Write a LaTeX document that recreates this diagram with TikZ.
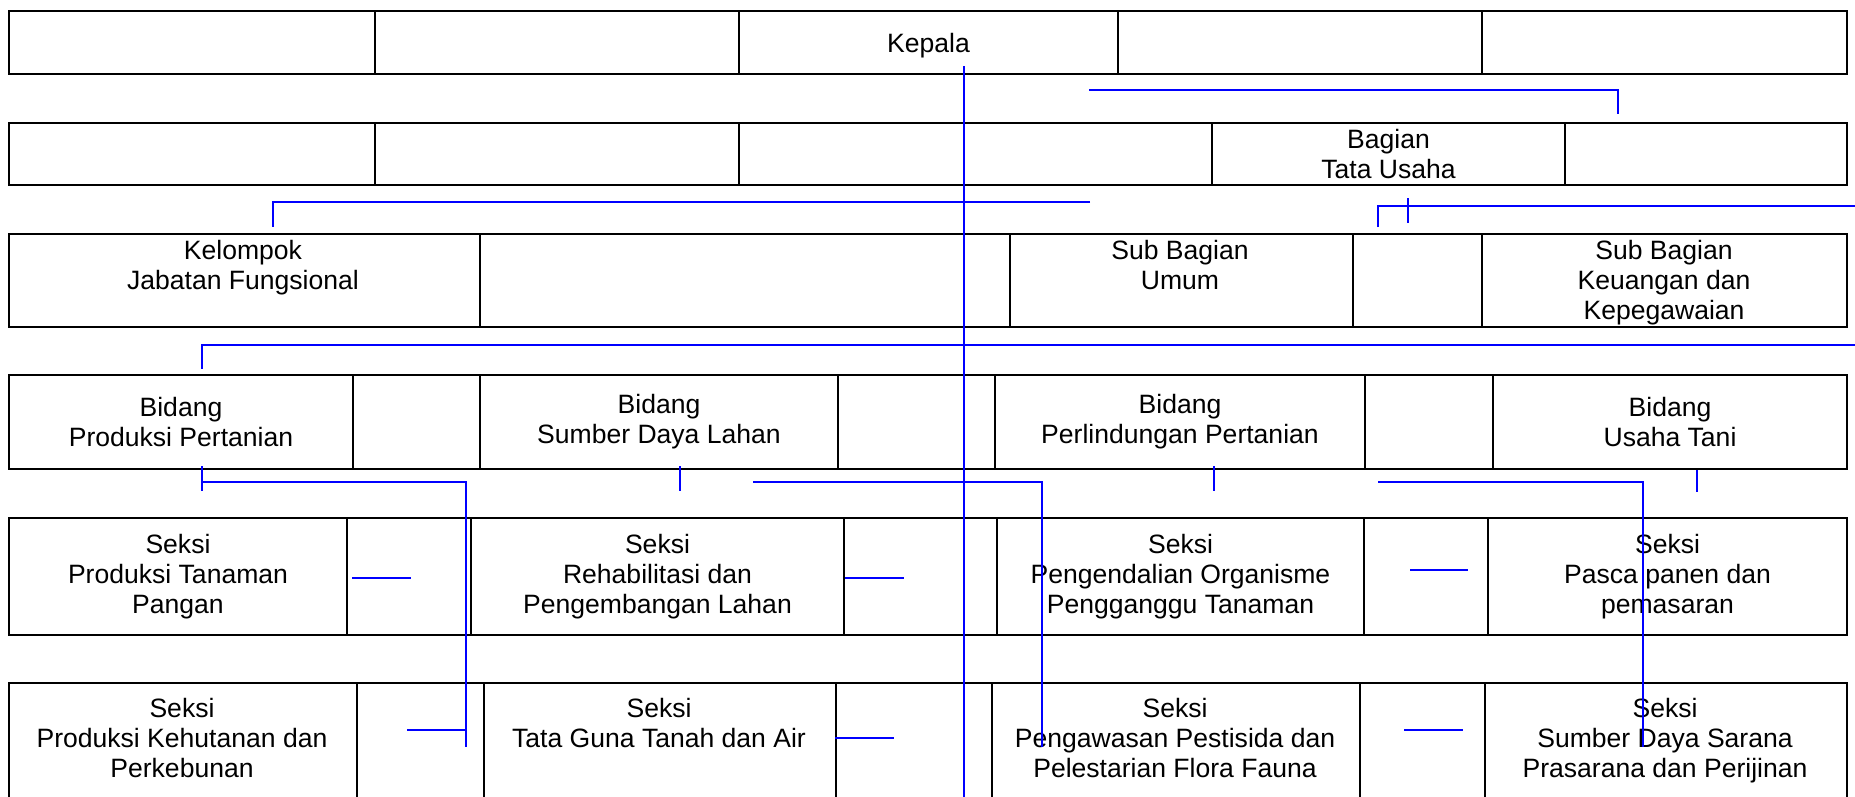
\documentclass[tikz,border=0pt]{standalone}
\usepackage{fontspec}
\setmainfont{Liberation Sans}
\usetikzlibrary{positioning}

\begin{document}
\begin{tikzpicture}[x=0.01cm,y=-0.01cm]

	\tikzset{
	cell/.style={draw, line width=0.5pt, inner sep=0pt, anchor=north west,
		font=\fontsize{7.55}{8.5}\selectfont, align=center},
	celltext/.style={inner sep=0pt, anchor=north, font=\fontsize{7.55}{8.5}\selectfont, align=center},
	link/.style={draw=blue, line width=0.5pt}
}

\useasboundingbox (0,0) rectangle (1855,796);
\clip (0,0) rectangle (1855,796);

% row 1
\node[cell, minimum width=3.66cm, minimum height=0.63cm] (R1a) at (8,10) {};
\node[cell, minimum width=3.64cm, minimum height=0.63cm] (R1b) at (374,10) {};
\node[cell, minimum width=3.79cm, minimum height=0.63cm, text depth=0pt] (Kpl) at (738,10) {Kepala};
\node[cell, minimum width=3.64cm, minimum height=0.63cm] (R1d) at (1117,10) {};
\node[cell, minimum width=3.65cm, minimum height=0.63cm] (R1e) at (1481,10) {};

% row 2
\node[cell, minimum width=3.66cm, minimum height=0.62cm] (R2a) at (8,122) {};
\node[cell, minimum width=3.64cm, minimum height=0.62cm] (R2b) at (374,122) {};
\node[cell, minimum width=4.73cm, minimum height=0.62cm] (R2c) at (738,122) {};
\node[cell, minimum width=3.53cm, minimum height=0.62cm] (BTU) at (1211,122) {Bagian\\Tata Usaha};
\node[cell, minimum width=2.82cm, minimum height=0.62cm] (R2e) at (1564,122) {};

% row 3
\node[cell, minimum width=4.71cm, minimum height=0.93cm] (KJF) at (8,233) {};
\node[cell, minimum width=5.30cm, minimum height=0.93cm] (R3b) at (479,233) {};
\node[cell, minimum width=3.43cm, minimum height=0.93cm] (SBU) at (1009,233) {};
\node[cell, minimum width=1.29cm, minimum height=0.93cm] (R3d) at (1352,233) {};
\node[cell, minimum width=3.65cm, minimum height=0.93cm] (SBK) at (1481,233) {};
\node[celltext] (KJFt) at (243,240) {Kelompok\\Jabatan Fungsional};
\node[celltext] (SBUt) at (1180,240) {Sub Bagian\\Umum};
\node[celltext] (SBKt) at (1664,240) {Sub Bagian\\Keuangan dan\\Kepegawaian};

% row 4
\node[cell, minimum width=3.44cm, minimum height=0.94cm] (BPP) at (8,374) {Bidang\\Produksi Pertanian};
\node[cell, minimum width=1.27cm, minimum height=0.94cm] (R4b) at (352,374) {};
\node[cell, minimum width=3.58cm, minimum height=0.94cm] (BSDL) at (479,374) {Bidang\\Sumber Daya Lahan};
\node[cell, minimum width=1.57cm, minimum height=0.94cm] (R4d) at (837,374) {};
\node[cell, minimum width=3.70cm, minimum height=0.94cm] (BPLP) at (994,374) {Bidang\\Perlindungan Pertanian};
\node[cell, minimum width=1.28cm, minimum height=0.94cm] (R4f) at (1364,374) {};
\node[cell, minimum width=3.54cm, minimum height=0.94cm] (BUT) at (1492,374) {Bidang\\Usaha Tani};

% row 5
\node[cell, minimum width=3.38cm, minimum height=1.17cm] (SPTP) at (8,517) {Seksi\\Produksi Tanaman\\Pangan};
\node[cell, minimum width=1.24cm, minimum height=1.17cm] (R5b) at (346,517) {};
\node[cell, minimum width=3.73cm, minimum height=1.17cm] (SRPL) at (470,517) {Seksi\\Rehabilitasi dan\\Pengembangan Lahan};
\node[cell, minimum width=1.53cm, minimum height=1.17cm] (R5d) at (843,517) {};
\node[cell, minimum width=3.67cm, minimum height=1.17cm] (SPOPT) at (996,517) {Seksi\\Pengendalian Organisme\\Pengganggu Tanaman};
\node[cell, minimum width=1.24cm, minimum height=1.17cm] (R5f) at (1363,517) {};
\node[cell, minimum width=3.59cm, minimum height=1.17cm] (SPPP) at (1487,517) {Seksi\\Pasca panen dan\\pemasaran};

% row 6
\node[cell, minimum width=3.48cm, minimum height=1.18cm] (SPKP) at (8,682) {};
\node[cell, minimum width=1.27cm, minimum height=1.18cm] (R6b) at (356,682) {};
\node[cell, minimum width=3.52cm, minimum height=1.18cm] (STGA) at (483,682) {};
\node[cell, minimum width=1.56cm, minimum height=1.18cm] (R6d) at (835,682) {};
\node[cell, minimum width=3.68cm, minimum height=1.18cm] (SPPF) at (991,682) {};
\node[cell, minimum width=1.25cm, minimum height=1.18cm] (R6f) at (1359,682) {};
\node[cell, minimum width=3.62cm, minimum height=1.18cm] (SSDP) at (1484,682) {};
\node[celltext] (SPKPt) at (182,698) {Seksi\\Produksi Kehutanan dan\\Perkebunan};
\node[celltext] (STGAt) at (659,698) {Seksi\\Tata Guna Tanah dan Air};
\node[celltext] (SPPFt) at (1175,698) {Seksi\\Pengawasan Pestisida dan\\Pelestarian Flora Fauna};
\node[celltext] (SSDPt) at (1665,698) {Seksi\\Sumber Daya Sarana\\Prasarana dan Perijinan};

% blue connectors
\coordinate (K1) at (964,66); \coordinate (K2) at (964,800);
\coordinate (A1) at (1089,90); \coordinate (A2) at (1618,90); \coordinate (A3) at (1618,114);
\coordinate (B1) at (1090,202); \coordinate (B2) at (273,202); \coordinate (B3) at (273,227);
\coordinate (C1) at (1378,227); \coordinate (C2) at (1378,206); \coordinate (C3) at (1855,206);
\coordinate (C4) at (1408,198); \coordinate (C5) at (1408,223);
\coordinate (D1) at (1855,345); \coordinate (D2) at (202,345); \coordinate (D3) at (202,369);
\coordinate (E1) at (202,466); \coordinate (E2) at (202,491);
\coordinate (E3) at (202,482); \coordinate (E4) at (466,482); \coordinate (E5) at (466,747);
\coordinate (F1) at (680,466); \coordinate (F2) at (680,491);
\coordinate (G1) at (753,482); \coordinate (G2) at (1042,482); \coordinate (G3) at (1042,747);
\coordinate (H1) at (1214,466); \coordinate (H2) at (1214,491);
\coordinate (I1) at (1378,482); \coordinate (I2) at (1643,482); \coordinate (I3) at (1643,747);
\coordinate (J1) at (1697,470); \coordinate (J2) at (1697,492);
\coordinate (S1) at (352,578); \coordinate (S2) at (411,578);
\coordinate (S3) at (845,578); \coordinate (S4) at (904,578);
\coordinate (S5) at (1410,570); \coordinate (S6) at (1468,570);
\coordinate (T1) at (407,730); \coordinate (T2) at (466,730);
\coordinate (T3) at (835,738); \coordinate (T4) at (894,738);
\coordinate (T5) at (1404,730); \coordinate (T6) at (1463,730);

\draw[link] (K1) -- (K2);
\draw[link] (A1) -- (A2) -- (A3);
\draw[link] (B1) -- (B2) -- (B3);
\draw[link] (C1) -- (C2) -- (C3);
\draw[link] (C4) -- (C5);
\draw[link] (D1) -- (D2) -- (D3);
\draw[link] (E1) -- (E2);
\draw[link] (E3) -- (E4) -- (E5);
\draw[link] (F1) -- (F2);
\draw[link] (G1) -- (G2) -- (G3);
\draw[link] (H1) -- (H2);
\draw[link] (I1) -- (I2) -- (I3);
\draw[link] (J1) -- (J2);
\draw[link] (S1) -- (S2);
\draw[link] (S3) -- (S4);
\draw[link] (S5) -- (S6);
\draw[link] (T1) -- (T2);
\draw[link] (T3) -- (T4);
\draw[link] (T5) -- (T6);

\end{tikzpicture}
\end{document}
